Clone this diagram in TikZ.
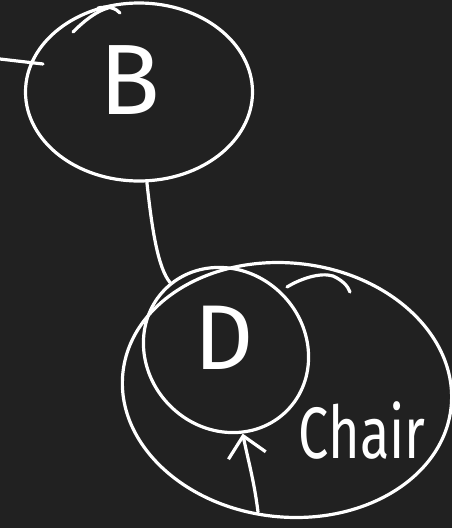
\documentclass[tikz,border=0pt]{standalone}
\usepackage{fontspec}
\newfontfamily\hand{Fira Sans}
\usetikzlibrary{shapes.geometric,arrows.meta}
\definecolor{bg}{RGB}{33,33,33}
\begin{document}
\begin{tikzpicture}[x=1pt,y=-1pt,
  ink/.style={draw=white,line width=3.2pt,line cap=round,line join=round},
  oval/.style={ink,ellipse,inner sep=0pt},
  lbl/.style={text=white,font=\hand,inner sep=0pt},
  barb/.style={-{Straight Barb[length=20pt,width=38pt,line width=3.2pt]}}]
\fill[bg] (0,0) rectangle (452,528);
\useasboundingbox (0,0) rectangle (452,528);
% ellipses
\node[oval,minimum width=227pt,minimum height=178pt] (B) at (139,92) {};
\node[oval,minimum width=330pt,minimum height=254pt,rotate=-6] (C) at (287,390) {};
\node[oval,minimum width=172pt,minimum height=158pt,rotate=-45] (D) at (226,350) {};
% labels
\node[lbl,font=\hand\fontsize{100}{100}\selectfont] (Bt) at (130,80) {B};
\node[lbl,font=\hand\fontsize{92}{92}\selectfont] (Dt) at (224,338) {D};
\node[lbl,font=\hand\fontsize{54}{54}\selectfont,yscale=1.35] (Ct) at (362,430) {Chair};
% connectors
\draw[ink] (B.-85) .. controls (152,230) and (158,268) .. (D);
\coordinate (L0) at (0,59);
\coordinate (L1) at (43,64);
\draw[ink] (L0) -- (L1);
\coordinate (A0) at (258,512);
\draw[ink,barb] (A0) .. controls (254,480) and (248,460) .. (D);
% small strokes
\draw[ink] (73,32) .. controls (85,20) and (97,11) .. (108,8);
\draw[ink] (98,8) .. controls (108,6) and (116,8) .. (120,13);
\draw[ink] (287,287) .. controls (300,279) and (320,272) .. (333,276) .. controls (342,280) and (348,286) .. (350,292);
\end{tikzpicture}
\end{document}
